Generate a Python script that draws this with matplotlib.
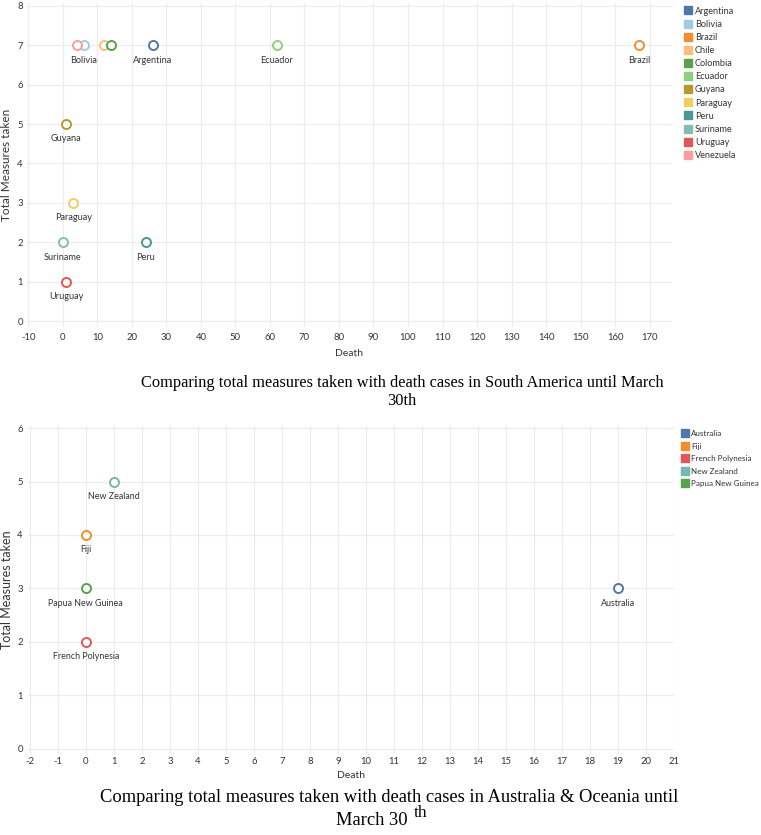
import matplotlib
matplotlib.use("Agg")
import matplotlib.pyplot as plt
from matplotlib.lines import Line2D

plt.rcParams["axes.unicode_minus"] = False

# ---------------- data ----------------
sa_countries = ["Argentina", "Bolivia", "Brazil", "Chile", "Colombia", "Ecuador",
                "Guyana", "Paraguay", "Peru", "Suriname", "Uruguay", "Venezuela"]
sa_deaths = [26, 6, 167, 12, 14, 62, 1, 3, 24, 0, 1, 4]
sa_measures = [7, 7, 7, 7, 7, 7, 5, 3, 2, 2, 1, 7]
sa_labeled = ["Bolivia", "Argentina", "Ecuador", "Brazil", "Guyana", "Paraguay",
              "Suriname", "Peru", "Uruguay"]
sa_colors = ["#4e79a7", "#a0cbe8", "#f28e2b", "#ffbe7d", "#59a14f", "#8cd17d",
             "#b6992d", "#f1ce63", "#499894", "#86bcb6", "#e15759", "#ff9d9a"]
sa_xticks = list(range(-10, 171, 10))
sa_yticks = list(range(0, 9))

oc_countries = ["Australia", "Fiji", "French Polynesia", "New Zealand", "Papua New Guinea"]
oc_deaths = [19, 0, 0, 1, 0]
oc_measures = [3, 4, 2, 5, 3]
oc_colors = ["#4e79a7", "#f28e2b", "#e15759", "#76b7b2", "#59a14f"]
oc_xticks = list(range(-2, 22))
oc_yticks = list(range(0, 7))

caption1 = "Comparing total measures taken with death cases in South America until March\n30th"
caption2a = "Comparing total measures taken with death cases in Australia & Oceania until"
caption2b = "March 30"

# ---------------- figure ----------------
W, H = 761, 835
fig = plt.figure(figsize=(W / 100, H / 100), dpi=100)
SANS = ["Lato", "DejaVu Sans"]
SERIF = ["Liberation Serif", "DejaVu Serif"]
TXT = "#333333"


def axes_px(l, t, r, b):
    return fig.add_axes([l / W, 1 - b / H, (r - l) / W, (b - t) / H])


def style(ax, xticks, yticks, xlim, ylim, xpad, xlabel_y, ylabel_size):
    ax.set_xlim(*xlim)
    ax.set_ylim(*ylim)
    ax.set_xticks(xticks)
    ax.set_yticks(yticks)
    ax.grid(True, color="#ececec", linewidth=0.8)
    ax.set_axisbelow(True)
    for s in ax.spines.values():
        s.set_visible(False)
    ax.tick_params(axis="x", length=0, labelsize=6.8, colors=TXT, pad=xpad)
    ax.tick_params(axis="y", length=0, labelsize=6.8, colors=TXT, pad=3)
    for lab in ax.get_xticklabels() + ax.get_yticklabels():
        lab.set_family(SANS)
    ax.set_xlabel("Death", fontsize=7.5, color=TXT, family=SANS)
    ax.set_ylabel("Total Measures taken", fontsize=ylabel_size, color=TXT, family=SANS)
    pos = ax.get_position()
    ax.yaxis.set_label_coords((7 / W - pos.x0) / pos.width, 0.5)
    ax.xaxis.set_label_coords(0.5, ((1 - xlabel_y / H) - pos.y0) / pos.height)
    ax.xaxis.label.set_va("center")
    ax.yaxis.label.set_va("center")


def scatter(ax, xs, ys, cols, names, labeled, fs):
    for x, y, c, n in zip(xs, ys, cols, names):
        ax.plot([x], [y], "o", ms=6.5, mfc="white", mec=c, mew=1.4, zorder=3)
        if n in labeled:
            ax.annotate(n, (x, y), xytext=(0, -7.5), textcoords="offset points",
                        ha="center", va="top", fontsize=fs, color=TXT, family=SANS)


def legend(ax, names, cols, x_px, y_px, fs, spacing):
    handles = [Line2D([], [], marker="s", ls="none", ms=6.3, mfc=c, mec=c) for c in cols]
    leg = ax.legend(handles, names, loc="upper left",
                    bbox_to_anchor=(x_px / W, 1 - y_px / H),
                    bbox_transform=fig.transFigure, frameon=False,
                    handlelength=0.7, handletextpad=0.4, borderaxespad=0,
                    labelspacing=spacing, prop={"family": SANS, "size": fs})
    for t in leg.get_texts():
        t.set_color(TXT)


# top chart
ax1 = axes_px(27, 3, 672, 327)
style(ax1, sa_xticks, sa_yticks, (-10.4, 176.5), (-0.15, 8.07), 4, 353, 8.5)
scatter(ax1, sa_deaths, sa_measures, sa_colors, sa_countries, sa_labeled, 6.6)
legend(ax1, sa_countries, sa_colors, 681, 3, 6.6, 0.45)
fig.text(402 / W, 1 - 375 / H, caption1, ha="center", va="top", fontsize=11.75,
         family=SERIF, color="black", linespacing=1.15)

# bottom chart
ax2 = axes_px(27, 426, 674, 754)
style(ax2, oc_xticks, oc_yticks, (-2.1, 21.0), (-0.1, 6.04), 2, 776, 9)
scatter(ax2, oc_deaths, oc_measures, oc_colors, oc_countries, oc_countries, 6.4)
legend(ax2, oc_countries, oc_colors, 679, 427, 5.8, 0.68)
fig.text(389 / W, 1 - 789 / H, caption2a, ha="center", va="top", fontsize=13.3,
         family=SERIF, color="black")
fig.text(408 / W, 1 - 812 / H, caption2b, ha="right", va="top", fontsize=13.3,
         family=SERIF, color="black")
fig.text(414 / W, 1 - 805 / H, "th", ha="left", va="top", fontsize=12.5,
         family=SERIF, color="black")

fig.savefig("out.png", dpi=100)
